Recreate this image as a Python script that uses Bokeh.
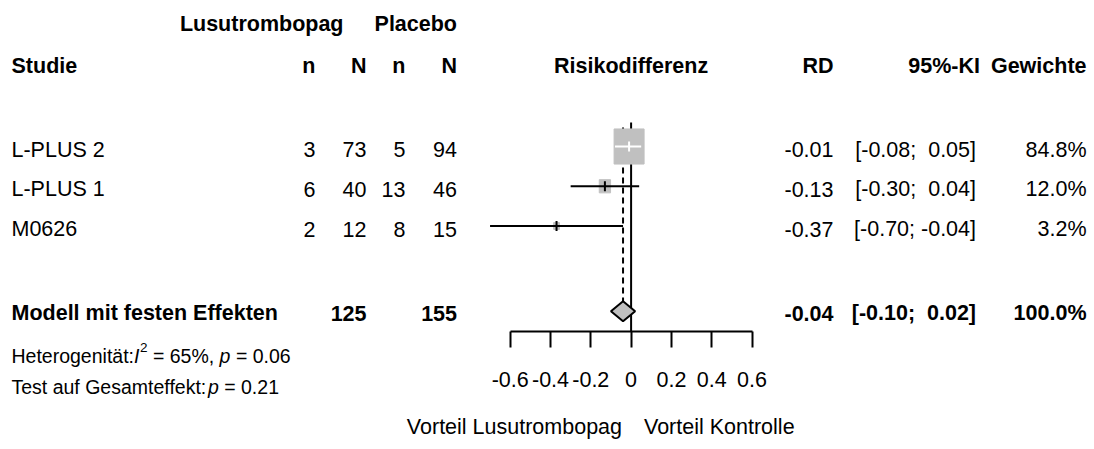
import math
from bokeh.plotting import figure
from bokeh.models import Range1d, LinearAxis, FixedTicker, CustomJSTickFormatter
from bokeh.core.properties import value
from bokeh.embed import file_html
from bokeh.resources import INLINE

# ---------------- data ----------------
studies = ["L-PLUS 2", "L-PLUS 1", "M0626"]
n_e = [3, 6, 2]
N_e = [73, 40, 12]
n_c = [5, 13, 8]
N_c = [94, 46, 15]
rd = [-0.01, -0.13, -0.37]
ci_lo = [-0.08, -0.30, -0.70]
ci_hi = [0.05, 0.04, -0.04]
weights = [84.8, 12.0, 3.2]

pooled_label = "Modell mit festen Effekten"
pooled_rd = -0.04
pooled_lo = -0.10
pooled_hi = 0.02
pooled_N_e = 125
pooled_N_c = 155
pooled_weight = 100.0
i2 = 65
p_het = 0.06
p_overall = 0.21
null_value = 0.0

ticks = [-0.6, -0.4, -0.2, 0.0, 0.2, 0.4, 0.6]
tick_labels = ["-0.6", "-0.4", "-0.2", "0", "0.2", "0.4", "0.6"]
group_labels = ["Lusutrombopag", "Placebo"]
col_headers = ["Studie", "n", "N", "n", "N", "Risikodifferenz", "RD", "95%-KI", "Gewichte"]
favour_labels = ["Vorteil Lusutrombopag", "Vorteil Kontrolle"]

# ---------------- layout ----------------
FONT = "Liberation Sans"
FS = "21.5px"
FS_SMALL = "19.5px"
NB = "\u00a0"
W, H = 1094, 449
OX, OY = 0, 0
X0_PX = 630.6          # page x of RD = 0
PX_PER_UNIT = 201.5    # pixels per RD unit
GRAY = "#C0C0C0"

p = figure(width=W, height=H,
           x_range=Range1d((OX - X0_PX) / PX_PER_UNIT, (OX + W - X0_PX) / PX_PER_UNIT),
           y_range=Range1d(OY + H, OY),
           x_axis_type=None, y_axis_type=None,
           toolbar_location=None, output_backend="svg",
           min_border=0, outline_line_color=None)
p.extra_x_ranges["px"] = Range1d(OX, OX + W)
p.background_fill_color = "white"
p.border_fill_color = "white"


def nb(s):
    return s.replace(" ", NB)


def txt(xs, ys, texts, align="left", bold=False, italic=False, size=FS, rng="px"):
    style = "bold" if bold else ("italic" if italic else "normal")
    p.text(x=list(xs), y=list(ys), text=[nb(t) for t in texts], text_align=align,
           text_baseline="alphabetic", text_font=value(FONT), text_font_size=size,
           text_font_style=style, text_color="black", x_range_name=rng)


# row positions (baselines)
HDR1_Y = 23.5
HDR2_Y = 65.5
ROW0_Y = 149.0
ROW_STEP = 39.75
row_base = [ROW0_Y + i * ROW_STEP for i in range(len(studies))]
row_mid = [146.0 + i * ROW_STEP for i in range(len(studies))]
POOL_Y = 312.5
POOL_MID = 310.7
HET_Y = 355.0
TEST_Y = 386.0
AXIS_Y = 331.0
FAV_Y = 426.5

COL_X = [315.0, 366.0, 405.0, 456.5]   # right edges n, N, n, N
STUDY_X = 11.0
RD_X = 833.0
CI_X = 975.5
CI_HDR_X = 979.5
W_X = 1086.0

# ---------------- headers ----------------
txt([343.0, COL_X[3]], [HDR1_Y] * 2, group_labels, align="right", bold=True)
txt([STUDY_X], [HDR2_Y], [col_headers[0]], bold=True)
txt(COL_X, [HDR2_Y] * 4, col_headers[1:5], align="right", bold=True)
txt([null_value], [HDR2_Y], [col_headers[5]], align="center", bold=True, rng="default")
txt([RD_X, CI_HDR_X, W_X], [HDR2_Y] * 3, col_headers[6:9], align="right", bold=True)

# ---------------- study rows ----------------
txt([STUDY_X] * len(studies), row_base, studies)
for cx, col in zip(COL_X, [n_e, N_e, n_c, N_c]):
    txt([cx] * len(col), row_base, [str(v) for v in col], align="right")
txt([RD_X] * len(rd), row_base, [f"{v:.2f}" for v in rd], align="right")
txt([CI_X] * len(rd), row_base,
    [f"[{lo:5.2f}; {hi:5.2f}]" for lo, hi in zip(ci_lo, ci_hi)], align="right")
txt([W_X] * len(rd), row_base, [f"{w:.1f}%" for w in weights], align="right")

# ---------------- pooled row ----------------
txt([STUDY_X], [POOL_Y], [pooled_label], bold=True)
txt([COL_X[1], COL_X[3]], [POOL_Y] * 2, [str(pooled_N_e), str(pooled_N_c)], align="right", bold=True)
txt([RD_X], [POOL_Y], [f"{pooled_rd:.2f}"], align="right", bold=True)
txt([CI_X], [POOL_Y], [f"[{pooled_lo:5.2f}; {pooled_hi:5.2f}]"], align="right", bold=True)
txt([W_X], [POOL_Y], [f"{pooled_weight:.1f}%"], align="right", bold=True)

# ---------------- heterogeneity / overall test ----------------
txt([STUDY_X], [HET_Y], ["Heterogenität:"], size=FS_SMALL)
txt([133.5], [HET_Y], ["I"], italic=True, size=FS_SMALL)
txt([139.5], [HET_Y - 8], ["2"], size="13.5px")
txt([147.0], [HET_Y], [f" = {i2}%, "], size=FS_SMALL)
txt([219.1], [HET_Y], ["p"], italic=True, size=FS_SMALL)
txt([230.0], [HET_Y], [f" = {p_het:.2f}"], size=FS_SMALL)

txt([STUDY_X], [TEST_Y], ["Test auf Gesamteffekt:"], size=FS_SMALL)
txt([207.5], [TEST_Y], ["p"], italic=True, size=FS_SMALL)
txt([218.3], [TEST_Y], [f" = {p_overall:.2f}"], size=FS_SMALL)

# ---------------- favour labels ----------------
txt([621.5], [FAV_Y], [favour_labels[0]], align="right")
txt([643.5], [FAV_Y], [favour_labels[1]], align="left")

# ---------------- forest graphics ----------------
LINE_TOP = 122.0
p.segment(x0=[pooled_rd], y0=[127.0], x1=[pooled_rd], y1=[POOL_MID - 10],
          line_color="black", line_width=2, line_dash="6 4")
p.segment(x0=[null_value], y0=[LINE_TOP], x1=[null_value], y1=[AXIS_Y],
          line_color="black", line_width=2)

wmax = max(weights)
box_w = [30.0 * math.sqrt(w / wmax) for w in weights]
box_h = [b * 1.17 for b in box_w]
p.rect(x=rd, y=row_mid, width=box_w, height=box_h, width_units="screen",
       height_units="screen", fill_color=GRAY, line_color=GRAY)

ci_colors = []
for est, lo, hi, bw in zip(rd, ci_lo, ci_hi, box_w):
    inside = (est - lo) * PX_PER_UNIT <= bw / 2 and (hi - est) * PX_PER_UNIT <= bw / 2
    ci_colors.append("white" if inside else "black")
p.segment(x0=ci_lo, y0=row_mid, x1=ci_hi, y1=row_mid, line_color=ci_colors, line_width=2)
p.rect(x=rd, y=row_mid, width=2, height=10, width_units="screen", height_units="screen",
       fill_color=ci_colors, line_color=None)

p.patch(x=[pooled_lo, pooled_rd, pooled_hi, pooled_rd],
        y=[POOL_MID, POOL_MID - 10, POOL_MID, POOL_MID + 10],
        fill_color=GRAY, line_color="black", line_width=2)

# ---------------- x axis ----------------
fmt = CustomJSTickFormatter(args=dict(t=ticks, l=tick_labels), code="""
const i = t.findIndex(v => Math.abs(v - tick) < 1e-9);
return i >= 0 ? l[i] : String(tick);
""")
ax = LinearAxis(fixed_location=AXIS_Y, bounds=(ticks[0], ticks[-1]),
                ticker=FixedTicker(ticks=ticks), formatter=fmt)
ax.axis_line_width = 2
ax.axis_line_color = "black"
ax.major_tick_line_width = 2
ax.major_tick_line_color = "black"
ax.major_tick_out = 16
ax.major_tick_in = 0
ax.minor_tick_line_color = None
ax.major_label_text_font = FONT
ax.major_label_text_font_size = FS
ax.major_label_text_color = "black"
ax.major_label_standoff = 24
p.add_layout(ax, "below")

open("out.html", "w").write(file_html(p, INLINE))
